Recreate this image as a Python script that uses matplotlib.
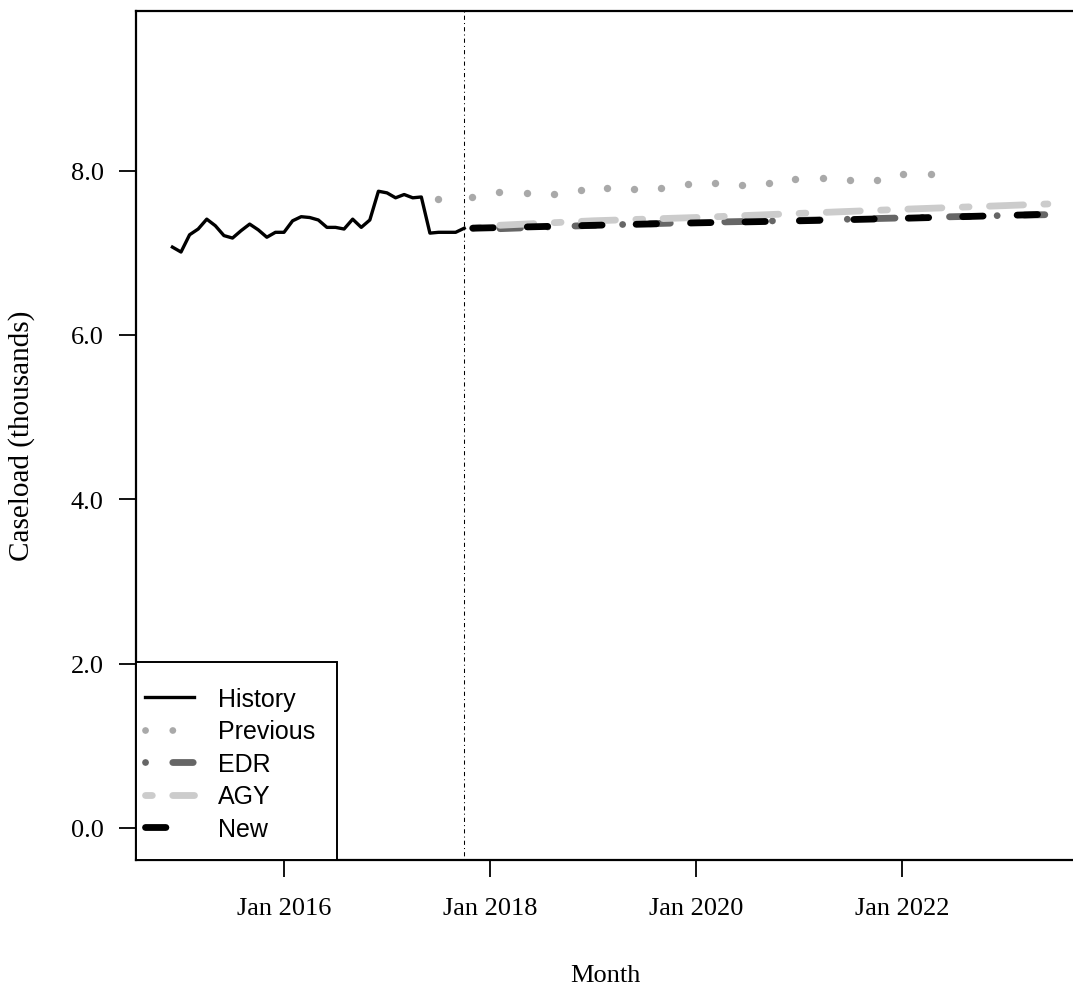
import numpy as np
import matplotlib.pyplot as plt
from matplotlib.lines import Line2D
from matplotlib.patches import Rectangle

# history, monthly Dec 2014 .. Oct 2017 (decimal years on the x axis)
hist_t = 2014 + 11 / 12 + np.arange(35) / 12
hist_v = [7.07, 7.01, 7.22, 7.29, 7.41, 7.33, 7.21, 7.18, 7.27, 7.35,
          7.28, 7.19, 7.25, 7.25, 7.39, 7.44, 7.43, 7.40, 7.31, 7.31,
          7.29, 7.41, 7.31, 7.40, 7.75, 7.73, 7.67, 7.71, 7.67, 7.68,
          7.24, 7.25, 7.25, 7.25, 7.30]

# previous forecast (visible dots)
prev_t = [2017.50, 2017.83, 2018.09, 2018.36, 2018.62, 2018.88, 2019.14,
          2019.40, 2019.66, 2019.92, 2020.18, 2020.45, 2020.71, 2020.96,
          2021.23, 2021.50, 2021.76, 2022.01, 2022.28]
prev_v = [7.66, 7.68, 7.74, 7.73, 7.72, 7.76, 7.79, 7.78, 7.79, 7.84,
          7.85, 7.83, 7.85, 7.90, 7.91, 7.89, 7.89, 7.96, 7.96]

# forecasts Nov 2017 .. Jun 2023
fc_t = [2017 + 10 / 12, 2018, 2019, 2020, 2021, 2022, 2023, 2023 + 5 / 12]
edr_v = [7.30, 7.29, 7.335, 7.37, 7.395, 7.425, 7.455, 7.465]
agy_v = [7.30, 7.33, 7.39, 7.43, 7.48, 7.53, 7.575, 7.595]
new_v = [7.30, 7.305, 7.335, 7.365, 7.39, 7.42, 7.455, 7.47]

cutoff = 2017.75

xticks = [2016, 2018, 2020, 2022]
xlabels = ["Jan 2016", "Jan 2018", "Jan 2020", "Jan 2022"]
yticks = [0, 2, 4, 6, 8]
ylabels = ["0.0", "2.0", "4.0", "6.0", "8.0"]
names = ["History", "Previous", "EDR", "AGY", "New"]

serif = "Liberation Serif"
sans = "Liberation Sans"

c_prev = "#a9a9a9"
c_edr = "#666666"
c_agy = "#cccccc"
lw_fc = 4.9

st_dot = (0, (0.01, 4))
st_edr = (0, (0.01, 4, 3, 4))
st_agy = (0, (1, 3, 5, 3))
st_new = (0, (3, 5))

W, H = 1073, 987
ax_l, ax_r, ax_t, ax_b = 136, 1075, 12, 860.5
fig = plt.figure(figsize=(W / 100, H / 100), dpi=100)
ax = fig.add_axes([ax_l / W, (H - ax_b) / H, (ax_r - ax_l) / W, (ax_b - ax_t) / H])

ax.plot(hist_t, hist_v, color="black", lw=2.4, solid_joinstyle="round")
ax.plot(prev_t, prev_v, ls="none", marker="o", ms=5.3, color=c_prev, mec="none")
ax.plot(fc_t, edr_v, color=c_edr, lw=lw_fc, ls=st_edr, dash_capstyle="round")
ax.plot(fc_t, agy_v, color=c_agy, lw=lw_fc, ls=st_agy, dash_capstyle="round")
ax.plot(fc_t, new_v, color="black", lw=lw_fc, ls=st_new, dash_capstyle="round")
ax.axvline(cutoff, color="black", lw=0.75, ls=(0, (1, 3, 4, 3)))

ax.set_xlim(2014.563, 2023.680)
ax.set_ylim(-0.385, 9.944)
ax.set_xticks(xticks)
ax.set_xticklabels(xlabels, fontfamily=serif, fontsize=19)
ax.set_yticks(yticks)
ax.set_yticklabels(ylabels, fontfamily=serif, fontsize=19)
ax.tick_params(axis="both", direction="out", length=12.2, width=1.3)
ax.tick_params(axis="x", pad=15)
ax.tick_params(axis="y", pad=11)
for s in ax.spines.values():
    s.set_linewidth(1.6)

ax.set_xlabel("Month", fontfamily=serif, fontsize=19)
ax.xaxis.set_label_coords(0.5, -0.123)
ax.set_ylabel("Caseload (thousands)", fontfamily=serif, fontsize=21)
ax.yaxis.set_label_coords(-0.108, 0.5)

# legend box (bottom left, flush with the axes)
pw, ph = ax_r - ax_l, ax_b - ax_t
ax.add_patch(Rectangle((0, 0), (336.7 - ax_l) / pw, (ax_b - 663) / ph,
                       transform=ax.transAxes, facecolor="white",
                       edgecolor="black", lw=1.4, zorder=4, clip_on=False))

handles = [
    Line2D([], [], color="black", lw=2.4),
    Line2D([], [], color=c_prev, lw=lw_fc, ls=st_dot, dash_capstyle="round"),
    Line2D([], [], color=c_edr, lw=lw_fc, ls=st_edr, dash_capstyle="round"),
    Line2D([], [], color=c_agy, lw=lw_fc, ls=st_agy, dash_capstyle="round"),
    Line2D([], [], color="black", lw=lw_fc, ls=st_new, dash_capstyle="round"),
]
leg = ax.legend(handles, names, loc="lower left",
                bbox_to_anchor=((145 - ax_l) / pw, (ax_b - 842) / ph),
                borderaxespad=0, borderpad=0, frameon=False,
                prop={"family": sans, "size": 18},
                handlelength=1.95, handletextpad=0.98, labelspacing=0.34)
leg.set_zorder(5)

fig.savefig("out.png", dpi=100)
